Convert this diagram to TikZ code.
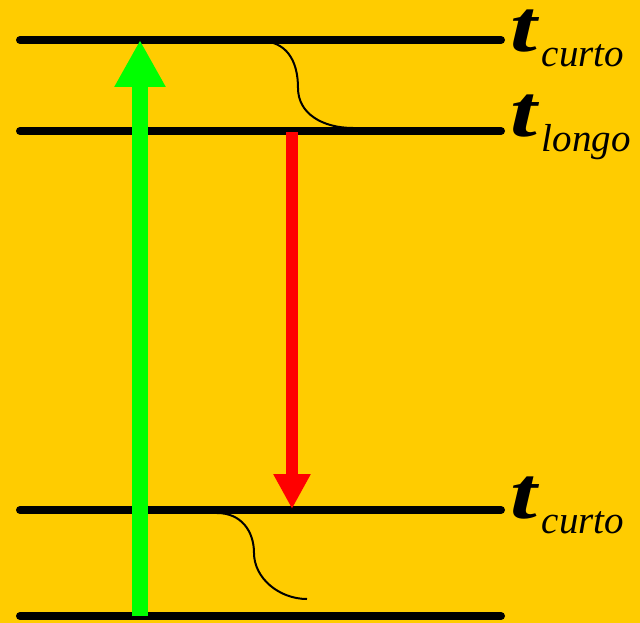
\documentclass[tikz,border=0pt]{standalone}
\usepackage{fontspec}
\setmainfont{Liberation Serif}
\newfontfamily\lblfont{Liberation Serif}
\usetikzlibrary{arrows.meta,positioning}
\definecolor{bgyellow}{RGB}{255,204,0}
\definecolor{upgreen}{RGB}{0,255,0}
\definecolor{downred}{RGB}{255,0,0}
\newcommand{\tlab}[1]{\scalebox{1.3}[1]{\lblfont\fontsize{74}{74}\selectfont\bfseries\itshape t}\kern5pt\raisebox{-15pt}{\lblfont\fontsize{39}{39}\selectfont\itshape #1}}

\begin{document}
\begin{tikzpicture}[x=1pt, y=-1pt,
level/.style={line width=8pt, line cap=round, black},
curve/.style={line width=2pt, black},
tlabel/.style={anchor=base west, inner sep=0pt}]

\useasboundingbox[fill=bgyellow] (0,0) rectangle (640,623);

\coordinate (s1a) at (20,40);
\coordinate (s1b) at (501,40);
\coordinate (s2a) at (20,131);
\coordinate (s2b) at (501,131);
\coordinate (s3a) at (20,510);
\coordinate (s3b) at (501,510);
\coordinate (s4a) at (20,616);
\coordinate (s4b) at (501,616);

\draw[level] (s1a) -- (s1b);

\draw[level] (s2a) -- (s2b);

\draw[level] (s3a) -- (s3b);

\draw[level] (s4a) -- (s4b);

\coordinate (k1a) at (260,41);
\coordinate (k1m) at (298,88);
\coordinate (k1b) at (353,128);
\coordinate (k2a) at (217,513);
\coordinate (k2m) at (254,553);
\coordinate (k2b) at (307,599);

\draw[curve] (k1a) .. controls +(26,0) and +(0,-28) .. (k1m) .. controls +(0,26) and +(-30,0) .. (k1b);

\draw[curve] (k2a) .. controls +(24,0) and +(0,-22) .. (k2m) .. controls +(0,25) and +(-28,0) .. (k2b);

\coordinate (g0) at (140,616);
\coordinate (g1) at (140,40);
\coordinate (r0) at (292,132);
\coordinate (r1) at (292,509);

\draw[line width=16pt, upgreen, -{Triangle[width=48pt, length=47pt]}] (g0) -- (g1);

\draw[line width=12pt, downred, -{Triangle[width=35pt, length=35pt]}] (r0) -- (r1);

\node[tlabel] (lab1) at (510,52) {\tlab{curto}};

\node[tlabel] (lab2) at (510,137) {\tlab{longo}};

\node[tlabel] (lab3) at (510,518) {\tlab{curto}};

\end{tikzpicture}
\end{document}
